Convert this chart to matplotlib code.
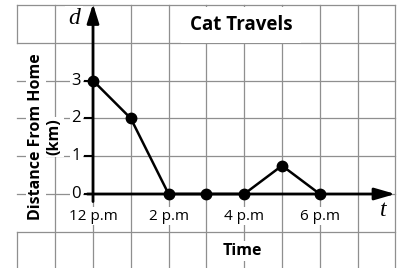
import matplotlib
matplotlib.use("Agg")
import matplotlib.pyplot as plt

# ---------------------------------------------------------
# DATA
# ---------------------------------------------------------
hours = [0, 1, 2, 3, 4, 5, 6]
distance_km = [3, 2, 0, 0, 0, 0.75, 0]

x_tick_pos = [0, 2, 4, 6]
x_tick_labels = ["12 p.m", "2 p.m", "4 p.m", "6 p.m"]
y_tick_pos = [0, 1, 2, 3]

# ---------------------------------------------------------
# LAYOUT (pixels of the 399x268 picture)
# ---------------------------------------------------------
W, H = 399, 268
X0, Y0 = 93, 194     # pixel of the origin
CELL = 37.8          # pixels per grid cell

FONT = "Open Sans"
SERIF = "Liberation Serif"
plt.rcParams["font.family"] = [FONT, "DejaVu Sans"]


def px(x, y):
    return (x - X0) / CELL, (Y0 - y) / CELL


fig = plt.figure(figsize=(W / 100, H / 100), dpi=100)
ax = fig.add_axes([0, 0, 1, 1])
ax.set_xlim(px(0, 0)[0], px(W, 0)[0])
ax.set_ylim(px(0, H)[1], px(0, 0)[1])
ax.axis("off")

# grid (left border is hidden behind the y label block)
gc = "#8f8f8f"
for t in range(-1, 9):
    ax.plot([t, t], [-2.5, 5], color=gc, lw=0.9, zorder=1)
ax.plot([-2, -2], [4, 5], color=gc, lw=0.9, zorder=1)
ax.plot([-2, -2], [-2.5, -1], color=gc, lw=0.9, zorder=1)
for d in range(-1, 6):
    ax.plot([-2, 8], [d, d], color=gc, lw=0.9, zorder=1)

white = dict(boxstyle="square,pad=0.12", fc="white", ec="none")

# axes with arrows
ax.annotate("", xy=(0, 5.03), xytext=(0, -0.2),
            arrowprops=dict(arrowstyle="-|>,head_length=1.15,head_width=0.36",
                            lw=2.0, color="black", mutation_scale=10,
                            shrinkA=0, shrinkB=0), zorder=3)
ax.annotate("", xy=(8.0, 0), xytext=(-0.15, 0),
            arrowprops=dict(arrowstyle="-|>,head_length=1.25,head_width=0.36",
                            lw=2.0, color="black", mutation_scale=10,
                            shrinkA=0, shrinkB=0), zorder=3)

# y ticks + labels
for d in y_tick_pos:
    ax.plot([-0.2, 0], [d, d], color="black", lw=1.5, zorder=3)
    ax.text(-0.44, d, str(d), ha="center", va="center", fontsize=12,
            bbox=white, zorder=2)

# x tick labels
for t, lab in zip(x_tick_pos, x_tick_labels):
    ax.text(t, px(0, 216)[1], lab, ha="center", va="center", fontsize=11,
            bbox=white, zorder=2)

# the data
ax.plot(hours, distance_km, color="black", lw=1.8, marker="o",
        markersize=7.5, zorder=4)

# texts
ax.text(*px(241, 25), "Cat Travels", ha="center", va="center",
        fontsize=13.5, fontweight="bold",
        bbox=dict(boxstyle="square,pad=0.45", fc="white", ec="none"), zorder=2)
ax.text(*px(242, 251), "Time", ha="center", va="center",
        fontsize=11.5, fontweight="bold", bbox=white, zorder=2)
ax.text(*px(36, 137), "Distance From Home", ha="center", va="center",
        rotation=90, fontsize=11.5, fontweight="bold", bbox=white, zorder=2)
ax.text(*px(54, 137), "(km)", ha="center", va="center",
        rotation=90, fontsize=11.5, fontweight="bold", bbox=white, zorder=2)
ax.text(*px(74, 19), "d", ha="center", va="center", fontsize=17,
        family=SERIF, style="italic", bbox=white, zorder=2)
ax.text(*px(383, 210), "t", ha="center", va="center", fontsize=17,
        family=SERIF, style="italic", bbox=white, zorder=2)

fig.savefig("out.png", dpi=100, facecolor="white")
